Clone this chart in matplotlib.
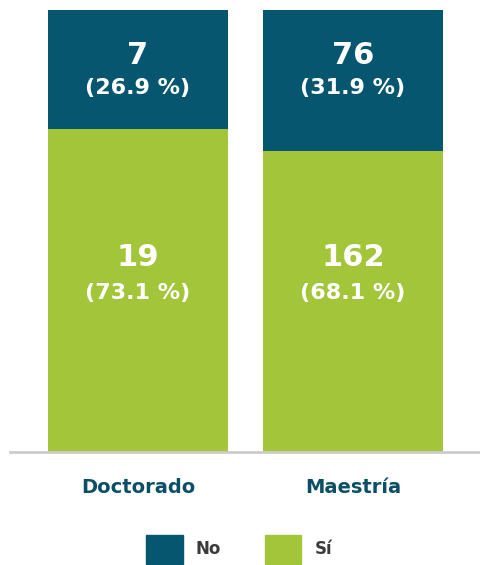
import matplotlib
matplotlib.use("Agg")
import matplotlib.pyplot as plt
from matplotlib.patches import Patch

# data
categories = ["Doctorado", "Maestría"]
no_counts = [7, 76]
si_counts = [19, 162]
no_pct = [26.9, 31.9]
si_pct = [73.1, 68.1]
legend_labels = ["No", "Sí"]

c_no = "#05566e"
c_si = "#a3c53a"

plt.rcParams["font.family"] = ["DejaVu Sans"]

fig = plt.figure(figsize=(4.8, 5.65), dpi=100)
ax = fig.add_axes([10 / 480, 113 / 565, 470 / 480, 442 / 565])

x = list(range(len(categories)))
w = 180 / 215
ax.bar(x, si_pct, width=w, color=c_si, zorder=2)
ax.bar(x, no_pct, width=w, bottom=si_pct, color=c_no, zorder=2)

for i in x:
    ax.text(i, 89.8, str(no_counts[i]), ha="center", va="center", color="white",
            fontsize=22, fontweight="bold")
    ax.text(i, 82.3, "(%.1f %%)" % no_pct[i], ha="center", va="center", color="white",
            fontsize=16, fontweight="bold")
    ax.text(i, 43.9, str(si_counts[i]), ha="center", va="center", color="white",
            fontsize=22, fontweight="bold")
    ax.text(i, 36.0, "(%.1f %%)" % si_pct[i], ha="center", va="center", color="white",
            fontsize=16, fontweight="bold")

ax.set_xlim(-128 / 215, 1 + 127 / 215)
ax.set_ylim(0, 100)
ax.set_yticks([])
ax.set_xticks(x)
ax.set_xticklabels(categories, fontsize=14, fontweight="bold", color="#0b4f67")
ax.tick_params(axis="x", length=0, pad=19)
for s in ["top", "right", "left"]:
    ax.spines[s].set_visible(False)
ax.spines["bottom"].set_color("#cccccc")
ax.spines["bottom"].set_linewidth(2)

handles = [Patch(color=c_no), Patch(color=c_si)]
leg = fig.legend(handles, legend_labels, loc="center", bbox_to_anchor=(239 / 480, 1 - 549 / 565),
                 ncol=2, frameon=False, handlelength=2.2, handleheight=2.3,
                 handletextpad=0.8, columnspacing=2.6,
                 prop={"size": 12, "weight": "bold"})
for t in leg.get_texts():
    t.set_color("#3a3a3a")

fig.savefig("out.png", dpi=100)
